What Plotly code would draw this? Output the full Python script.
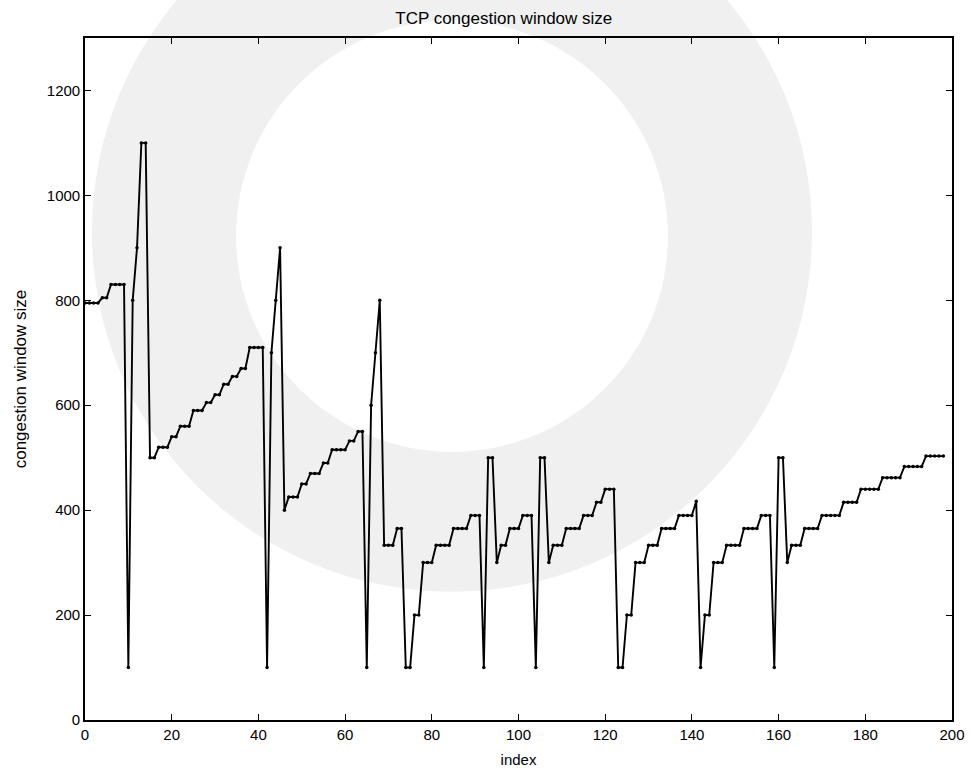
import plotly.graph_objects as go

# congestion window size per sample
cwnd = [
    795, 795, 795, 795, 805, 805, 830, 830, 830, 830,
    100, 800, 900, 1100, 1100,
    500, 500, 520, 520, 520, 540, 540, 560, 560, 560,
    590, 590, 590, 605, 605, 620, 620, 640, 640, 655, 655, 670, 670,
    710, 710, 710, 710,
    100, 700, 800, 900,
    400, 425, 425, 425, 450, 450, 470, 470, 470, 490, 490,
    515, 515, 515, 515, 532, 532, 550, 550,
    100, 600, 700, 800,
    333, 333, 333, 365, 365,
    100, 100, 200, 200, 300, 300, 300, 333, 333, 333, 333,
    365, 365, 365, 365, 390, 390, 390,
    100, 500, 500, 300, 333, 333, 365, 365, 365, 390, 390, 390,
    100, 500, 500, 300, 333, 333, 333, 365, 365, 365, 365,
    390, 390, 390, 415, 415, 440, 440, 440,
    100, 100, 200, 200, 300, 300, 300, 333, 333, 333,
    365, 365, 365, 365, 390, 390, 390, 390, 417,
    100, 200, 200, 300, 300, 300, 333, 333, 333, 333,
    365, 365, 365, 365, 390, 390, 390,
    100, 500, 500, 300, 333, 333, 333, 365, 365, 365, 365,
    390, 390, 390, 390, 390, 415, 415, 415, 415,
    440, 440, 440, 440, 440, 462, 462, 462, 462, 462,
    483, 483, 483, 483, 483, 503, 503, 503, 503, 503,
]
index = list(range(len(cwnd)))

x_ticks = [0, 20, 40, 60, 80, 100, 120, 140, 160, 180, 200]
y_ticks = [0, 200, 400, 600, 800, 1000, 1200]

FONT = "Liberation Sans, Arial, sans-serif"

fig = go.Figure()
fig.add_trace(go.Scatter(
    x=index, y=cwnd, mode="lines+markers",
    line=dict(color="black", width=1.9),
    marker=dict(color="black", size=3.5),
    showlegend=False,
))

# faint grey ring printed behind the scanned figure
fig.add_shape(type="circle", xref="paper", yref="paper", layer="below",
              x0=0.008, x1=0.8385, y0=0.188, y1=1.243,
              fillcolor="#f0f0f0", line=dict(width=0))
fig.add_shape(type="circle", xref="paper", yref="paper", layer="below",
              x0=0.1742, x1=0.6724, y0=0.393, y1=1.026,
              fillcolor="white", line=dict(width=0))

axis_style = dict(
    showline=True, mirror="ticks", linecolor="black", linewidth=1.6,
    ticks="inside", ticklen=6, tickcolor="black", tickwidth=1.3,
    showgrid=False, zeroline=False, automargin=False,
    tickfont=dict(family=FONT, size=15, color="black"),
)

fig.update_layout(
    width=971, height=771,
    margin=dict(l=85, r=19, t=38, b=51),
    paper_bgcolor="white",
    plot_bgcolor="rgba(0,0,0,0)",
    font=dict(family=FONT, color="black"),
    title=dict(text="TCP congestion window size", xref="paper", x=0.483,
               xanchor="center", y=0.977, yanchor="middle",
               font=dict(family=FONT, size=17, color="black")),
    xaxis=dict(axis_style, range=[0, 200], tickvals=x_ticks,
               title=dict(text="index", standoff=13,
                          font=dict(family=FONT, size=15))),
    yaxis=dict(axis_style, range=[0, 1300], tickvals=y_ticks,
               title=dict(text="congestion window size", standoff=16,
                          font=dict(family=FONT, size=17))),
)

fig.write_html(
    "out.html",
    config={"displayModeBar": False},
    post_script="document.body.style.margin='0';"
                "document.body.style.overflow='hidden';",
)
